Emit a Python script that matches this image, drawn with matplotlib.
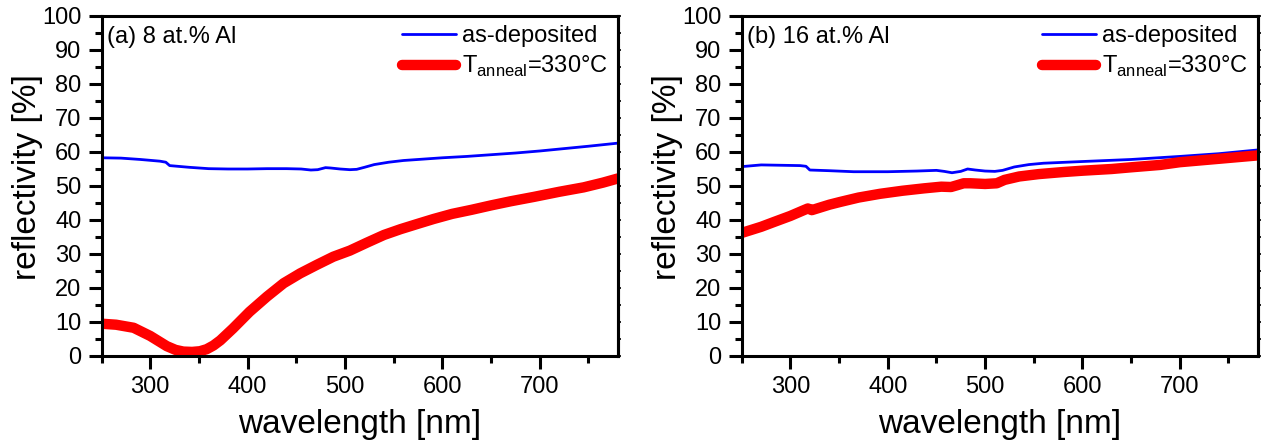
import matplotlib
matplotlib.use("Agg")
import matplotlib.pyplot as plt
from matplotlib.ticker import MultipleLocator

plt.rcParams['font.family'] = ['Liberation Sans', 'DejaVu Sans']
plt.rcParams['mathtext.fontset'] = 'custom'
plt.rcParams['mathtext.rm'] = 'Liberation Sans'

# ---- data ----
wl_a_dep = [250, 270, 290, 310, 316, 320, 340, 360, 380, 400, 420, 440, 455, 465, 472, 480, 485,
            495, 505, 512, 520, 530, 545, 560, 580, 600, 625, 650, 675, 700, 725, 750, 780]
ref_a_dep = [58.3, 58.2, 57.8, 57.3, 57.0, 56.0, 55.5, 55.1, 55.0, 55.0, 55.1, 55.1, 55.0, 54.7, 54.8,
             55.4, 55.3, 55.0, 54.8, 54.9, 55.5, 56.3, 57.0, 57.5, 57.9, 58.3, 58.7, 59.2, 59.7,
             60.3, 61.0, 61.7, 62.6]

wl_a_ann = [250, 265, 283, 300, 317, 326, 334, 343, 351, 358, 365, 372, 385, 402, 420, 437, 454,
            471, 488, 505, 523, 540, 557, 575, 591, 610, 630, 650, 670, 694, 720, 745, 765, 780]
ref_a_ann = [9.5, 9.2, 8.3, 5.9, 2.9, 1.8, 1.3, 1.2, 1.4, 2.0, 3.1, 4.6, 8.1, 13.0, 17.5, 21.4,
             24.3, 26.8, 29.2, 31.0, 33.4, 35.6, 37.3, 38.9, 40.3, 41.8, 43.0, 44.3, 45.5, 46.8,
             48.3, 49.6, 51.0, 52.2]

wl_b_dep = [250, 270, 290, 310, 316, 320, 340, 365, 400, 430, 450, 458, 466, 475, 482, 490, 500,
            510, 518, 530, 545, 560, 600, 650, 700, 740, 780]
ref_b_dep = [55.7, 56.2, 56.1, 56.0, 55.8, 54.7, 54.5, 54.2, 54.2, 54.4, 54.6, 54.3, 53.9, 54.3,
             55.0, 54.7, 54.4, 54.3, 54.6, 55.6, 56.3, 56.7, 57.2, 57.8, 58.7, 59.5, 60.6]

wl_b_ann = [250, 270, 283, 300, 313, 318, 322, 340, 351, 370, 392, 415, 437, 455, 465, 471, 478,
            485, 500, 512, 520, 535, 555, 580, 600, 630, 650, 680, 700, 740, 780]
ref_b_ann = [36.2, 38.0, 39.4, 41.2, 42.8, 43.4, 42.9, 44.5, 45.3, 46.6, 47.7, 48.6, 49.3, 49.8,
             49.7, 50.2, 50.8, 50.8, 50.6, 50.8, 51.8, 52.8, 53.5, 54.1, 54.5, 55.0, 55.5, 56.2,
             57.0, 58.0, 59.0]

panel_titles = ["(a) 8 at.% Al", "(b) 16 at.% Al"]
legend_labels = ["as-deposited", "T$_{\\mathregular{anneal}}$=330°C"]
xlabel = "wavelength [nm]"
ylabel = "reflectivity [%]"

fig = plt.figure(figsize=(12.63, 4.46), dpi=100)
W, H = 1263, 446
boxes = [(101.5, 617.7), (741.7, 1257.7)]
top_px, bot_px = 16, 356

datasets = [(wl_a_dep, ref_a_dep, wl_a_ann, ref_a_ann),
            (wl_b_dep, ref_b_dep, wl_b_ann, ref_b_ann)]

for i, (l, r) in enumerate(boxes):
    ax = fig.add_axes([l / W, 1 - bot_px / H, (r - l) / W, (bot_px - top_px) / H])
    wd, rd, wa, ra = datasets[i]
    ax.plot(wd, rd, color='#0000ff', lw=2.0, label=legend_labels[0], solid_capstyle='round')
    ax.plot(wa, ra, color='#ff0000', lw=7.5, label=legend_labels[1], solid_capstyle='round',
            solid_joinstyle='round')
    ax.set_xlim(250, 780)
    ax.set_ylim(0, 100)
    ax.xaxis.set_major_locator(MultipleLocator(100))
    ax.xaxis.set_minor_locator(MultipleLocator(50))
    ax.yaxis.set_major_locator(MultipleLocator(10))
    ax.yaxis.set_minor_locator(MultipleLocator(5))
    for s in ax.spines.values():
        s.set_linewidth(2.2)
    ax.tick_params(which='major', direction='out', length=9.5, width=2.2, labelsize=17, pad=5,
                   top=False, right=False)
    ax.tick_params(which='minor', direction='out', length=5, width=2.2,
                   top=False, right=False)
    # small unlabeled ticks on the right spine
    axr = ax.secondary_yaxis('right')
    axr.yaxis.set_major_locator(MultipleLocator(5))
    axr.tick_params(direction='out', length=2.5, width=1.2, labelright=False)
    axr.spines['right'].set_linewidth(2.2)
    ax.set_xlabel(xlabel, fontsize=24)
    ax.set_ylabel(ylabel, fontsize=24)
    ax.yaxis.set_label_coords(-0.113, 0.526)
    ax.xaxis.set_label_coords(0.5, -0.155)
    ax.xaxis.label.set_va('top')
    ax.text(0.011, 0.972, panel_titles[i], transform=ax.transAxes, fontsize=17,
            ha='left', va='top')
    ax.legend(loc='upper right', bbox_to_anchor=(1.0, 1.0), frameon=False, fontsize=17,
              handlelength=2.3, handletextpad=0.25, labelspacing=0.28, borderaxespad=0.2,
              borderpad=0.2)

fig.savefig("out.png", dpi=100)
